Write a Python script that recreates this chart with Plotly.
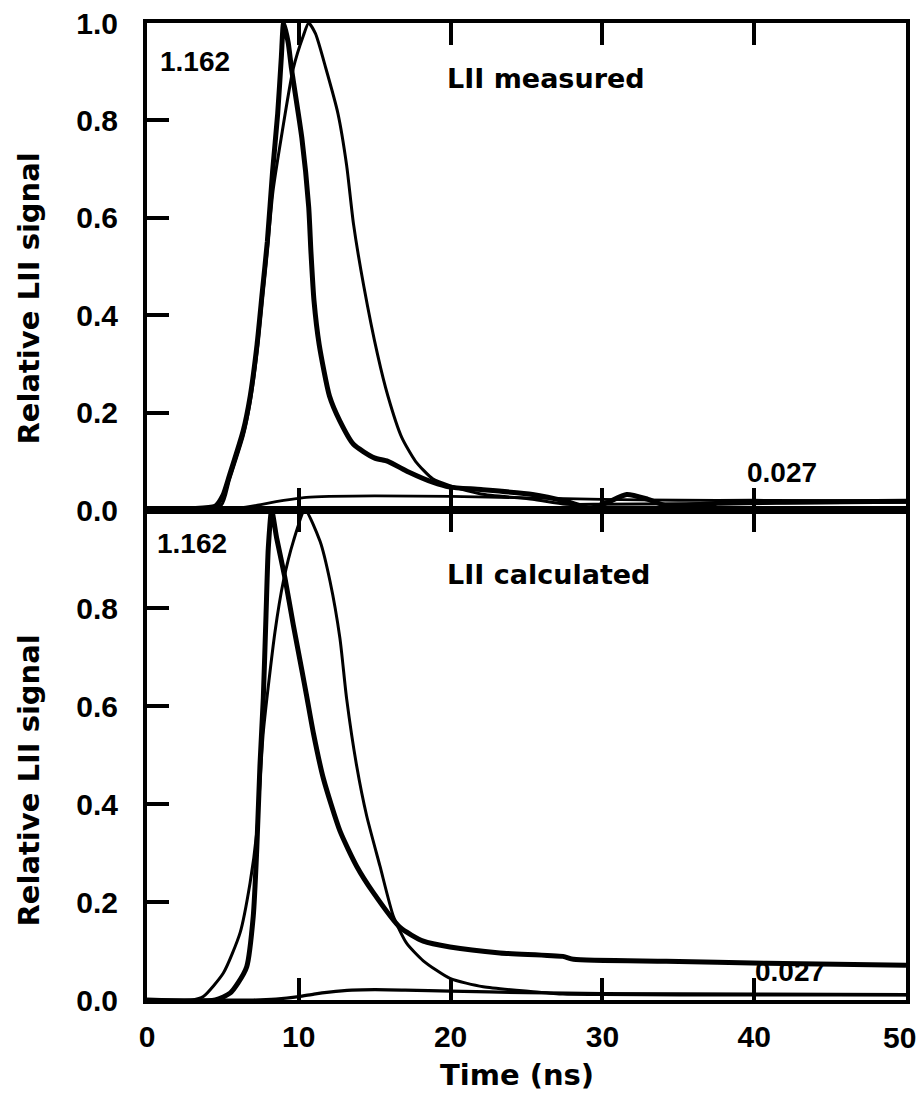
import plotly.graph_objects as go

# ---------------- data ----------------
# Top panel: LII measured
meas_narrow_t = [0, 3, 4.5, 5.0, 5.43, 6.34, 6.8, 7.25, 7.59, 7.93, 8.27, 8.61, 8.85, 9.0, 9.3, 9.52,
                 10.2, 10.65, 10.8, 11.0, 11.34, 12.02, 12.7, 13.6, 14.97, 15.87, 17.23, 18.82, 19.95,
                 22.0, 25.4, 27.6, 29.2, 30.3, 31.6, 33.0, 34.3, 37.6, 42, 50]
meas_narrow_v = [0.003, 0.003, 0.008, 0.03, 0.071, 0.163, 0.234, 0.34, 0.446, 0.552, 0.694, 0.814, 0.93, 1.0, 0.96, 0.906,
                 0.764, 0.623, 0.53, 0.43, 0.34, 0.234, 0.183, 0.135, 0.107, 0.1, 0.078, 0.057, 0.047,
                 0.042, 0.032, 0.018, 0.004, 0.015, 0.032, 0.022, 0.008, 0.014, 0.016, 0.018]

meas_wide_t = [0, 3, 4.9, 5.43, 6.34, 6.8, 7.25, 7.59, 7.93, 8.3, 8.84, 9.63, 10.31, 10.65, 11.1, 11.79,
               12.58, 13.15, 13.6, 14.28, 15.19, 15.87, 16.78, 17.69, 18.82, 19.95, 22.0, 25.4, 27.6,
               30, 35, 42, 50]
meas_wide_v = [0.003, 0.003, 0.01, 0.062, 0.152, 0.222, 0.325, 0.43, 0.535, 0.655, 0.764, 0.906, 0.975, 1.0, 0.978, 0.906,
               0.814, 0.708, 0.588, 0.46, 0.319, 0.234, 0.149, 0.1, 0.064, 0.05, 0.033, 0.022, 0.012,
               0.012, 0.013, 0.015, 0.016]

meas_small_t = [0, 5.5, 6.5, 7.5, 8.5, 9.5, 10.5, 12, 15, 20, 25, 30, 35, 40, 50]
meas_small_v = [0.002, 0.003, 0.006, 0.011, 0.017, 0.022, 0.026, 0.028, 0.029, 0.028, 0.025, 0.022, 0.02, 0.02, 0.019]

# Bottom panel: LII calculated
calc_narrow_t = [0, 4.5, 5.47, 6.0, 6.57, 7.0, 7.23, 7.44, 7.66, 7.84, 7.99, 8.21, 8.54, 9.09, 9.64,
                 10.19, 10.52, 10.96, 11.62, 12.71, 13.81, 14.91, 16.67, 18.2, 19.96, 23.25, 27.4,
                 28.1, 34.2, 40.8, 50]
calc_narrow_v = [0.0, 0.0, 0.014, 0.035, 0.068, 0.171, 0.307, 0.478, 0.615, 0.785, 0.922, 1.0, 0.943, 0.861, 0.765,
                 0.675, 0.62, 0.545, 0.452, 0.345, 0.273, 0.219, 0.148, 0.12, 0.108, 0.096, 0.089,
                 0.083, 0.079, 0.075, 0.071]

calc_wide_t = [0, 3.0, 3.71, 5.03, 6.13, 6.79, 7.23, 7.66, 8.43, 8.98, 9.64, 10.41, 11.4, 12.06, 12.71,
               13.15, 13.81, 14.47, 15.35, 16.23, 17.1, 18.2, 19.96, 22.15, 25.45, 27.4, 30, 40, 50]
calc_wide_v = [0, 0, 0.007, 0.055, 0.137, 0.239, 0.342, 0.546, 0.751, 0.854, 0.936, 1.0, 0.936, 0.854, 0.738,
               0.615, 0.478, 0.376, 0.273, 0.171, 0.116, 0.08, 0.044, 0.027, 0.017, 0.012, 0.011, 0.01, 0.01]

calc_small_t = [0, 7, 8.5, 10, 11, 12, 13.5, 15, 17, 20, 25, 30, 40, 50]
calc_small_v = [0, 0, 0.002, 0.007, 0.012, 0.016, 0.02, 0.021, 0.02, 0.018, 0.015, 0.013, 0.012, 0.011]

x_ticks_top = [10, 20, 30, 40]
x_ticks_bottom = [0, 10, 20, 30, 40, 50]
y_ticks_top = [0, 0.2, 0.4, 0.6, 0.8, 1.0]
y_ticks_bottom = [0, 0.2, 0.4, 0.6, 0.8]

# ---------------- figure ----------------
W, H = 920, 1095
ML, MR, MT, MB = 147, 14, 23, 95
plot_h = H - MT - MB
split = (1000 - 510) / plot_h

fig = go.Figure()

def add(t, v, width, ax):
    fig.add_trace(go.Scatter(
        x=t, y=v, mode="lines",
        line=dict(color="black", width=width, shape="spline", smoothing=0.6),
        xaxis="x" if ax == 1 else "x2", yaxis="y" if ax == 1 else "y2",
        showlegend=False, hoverinfo="skip"))

add(meas_small_t, meas_small_v, 2.8, 1)
add(meas_wide_t, meas_wide_v, 3, 1)
add(meas_narrow_t, meas_narrow_v, 5, 1)
add(calc_small_t, calc_small_v, 3.2, 2)
add(calc_wide_t, calc_wide_v, 3, 2)
add(calc_narrow_t, calc_narrow_v, 5, 2)

tickfont = dict(family="Liberation Sans", size=30, color="black", weight="bold")

common_x = dict(range=[0, 50], showgrid=False, zeroline=False, showline=True,
                linecolor="black", linewidth=4, ticks="inside", ticklen=22,
                tickwidth=4, tickcolor="black", mirror="ticks", tickmode="array",
                automargin=False)
common_y = dict(range=[0, 1], showgrid=False, zeroline=False, showline=True,
                linecolor="black", linewidth=4, ticks="inside", ticklen=22,
                tickwidth=4, tickcolor="black", mirror=True, tickmode="array",
                tickfont=tickfont, ticklabelstandoff=19, automargin=False)

# the last x tick label sits against the right page edge, so it is placed as an
# annotation nudged inside the page; the others come from the axis
x_ticktext = [str(v) for v in x_ticks_bottom[:-1]] + [""]

fig.update_layout(
    width=W, height=H,
    margin=dict(l=ML, r=MR, t=MT, b=MB, autoexpand=False),
    paper_bgcolor="white", plot_bgcolor="white",
    xaxis=dict(common_x, anchor="y", tickvals=x_ticks_top, showticklabels=False),
    yaxis=dict(common_y, anchor="x", domain=[split, 1], tickvals=y_ticks_top,
               ticktext=[f"{v:.1f}" for v in y_ticks_top]),
    xaxis2=dict(common_x, anchor="y2", tickvals=x_ticks_bottom,
                ticktext=x_ticktext, tickfont=tickfont,
                ticklabelstandoff=7),
    yaxis2=dict(common_y, anchor="x2", domain=[0, split], tickvals=y_ticks_bottom,
                ticktext=[f"{v:.1f}" for v in y_ticks_bottom]),
)

def px_x(px):
    return (px - ML) / (W - ML - MR)

def px_y(py):
    return (H - MB - py) / plot_h

ann = []
small_font = dict(family="Liberation Sans", size=28, color="black", weight="bold")
label_font = dict(family="DejaVu Sans", size=27, color="black", weight="bold")
title_font = dict(family="DejaVu Sans", size=29, color="black", weight="bold")

# top panel annotations
ann.append(dict(text="1.162", x=0.72, y=0.92, xref="x", yref="y", xanchor="left",
                yanchor="middle", showarrow=False, font=small_font))
ann.append(dict(text="LII measured", x=19.6, y=0.887, xref="x", yref="y", xanchor="left",
                yanchor="middle", showarrow=False, font=label_font))
ann.append(dict(text="0.027", x=39.4, y=0.078, xref="x", yref="y", xanchor="left",
                yanchor="middle", showarrow=False, font=small_font))
# bottom panel annotations
ann.append(dict(text="1.162", x=0.5, y=0.932, xref="x2", yref="y2", xanchor="left",
                yanchor="middle", showarrow=False, font=small_font))
ann.append(dict(text="LII calculated", x=19.6, y=0.869, xref="x2", yref="y2", xanchor="left",
                yanchor="middle", showarrow=False, font=label_font))
ann.append(dict(text="0.027", x=39.9, y=0.059, xref="x2", yref="y2", xanchor="left",
                yanchor="middle", showarrow=False, font=small_font))
# last x tick label, kept inside the page
ann.append(dict(text=str(x_ticks_bottom[-1]), x=px_x(918), y=px_y(1037), xref="paper", yref="paper",
                xanchor="right", yanchor="middle", showarrow=False, font=tickfont))
# axis titles
ann.append(dict(text="Relative LII signal", x=px_x(28.5), y=px_y(299), xref="paper", yref="paper",
                textangle=-90, xanchor="center", yanchor="middle", showarrow=False, font=title_font))
ann.append(dict(text="Relative LII signal", x=px_x(28.5), y=px_y(781), xref="paper", yref="paper",
                textangle=-90, xanchor="center", yanchor="middle", showarrow=False, font=title_font))
ann.append(dict(text="Time (ns)", x=px_x(517), y=px_y(1075), xref="paper", yref="paper",
                xanchor="center", yanchor="middle", showarrow=False, font=title_font))

fig.update_layout(annotations=ann)

fig.write_html("out.html")
